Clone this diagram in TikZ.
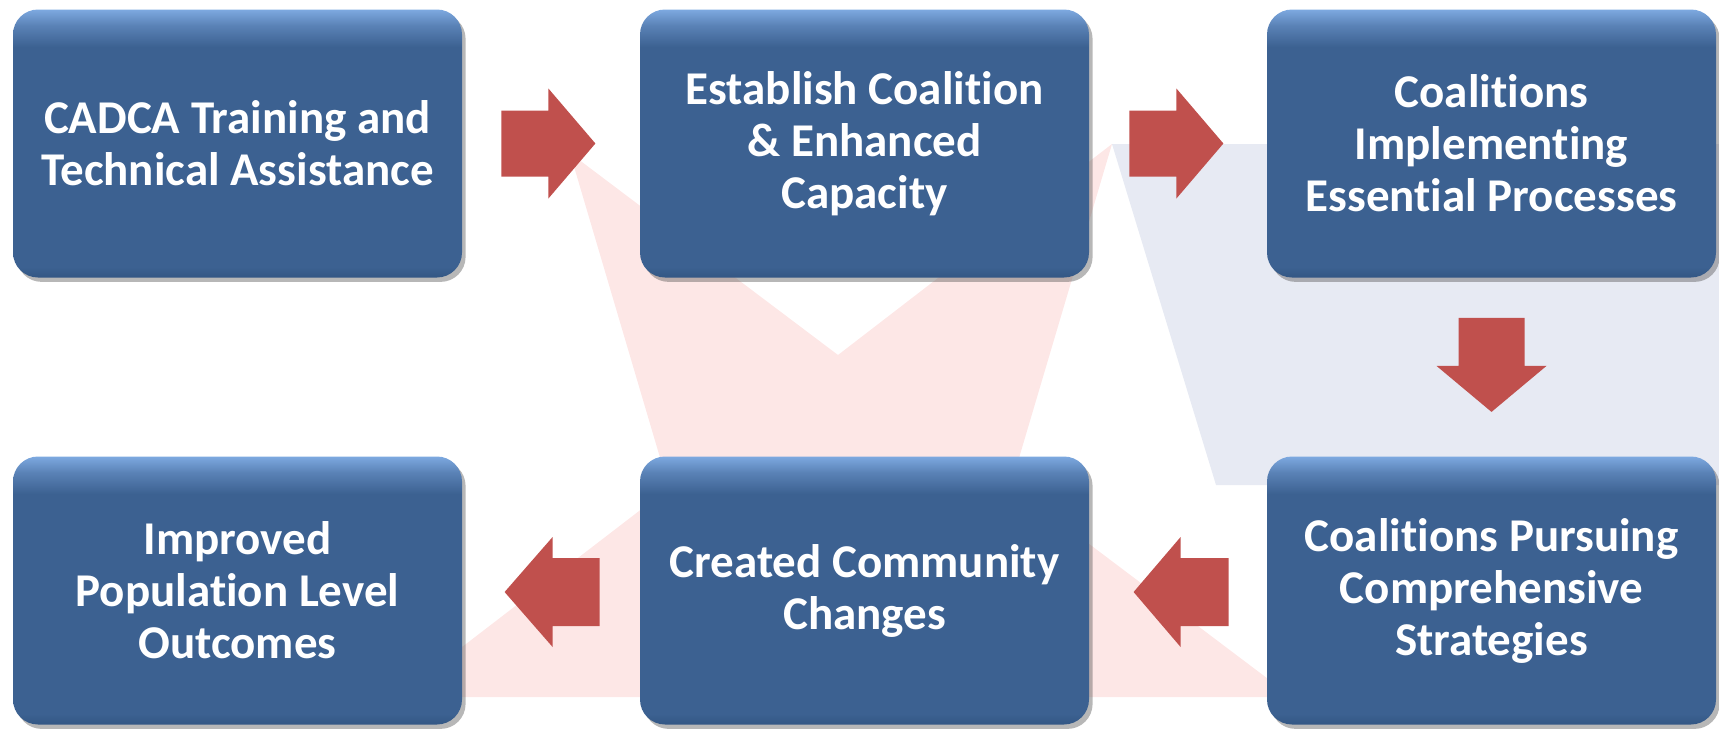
\documentclass[tikz,border=0pt]{standalone}
\usepackage{fontspec}
\setmainfont{Carlito}[Ligatures=NoCommon]
\usetikzlibrary{calc,shadows}
\definecolor{boxmain}{HTML}{3C6191}
\definecolor{boxdark}{HTML}{335784}
\definecolor{boxmid}{HTML}{5A82B6}
\definecolor{boxtop}{HTML}{7DA9E0}
\definecolor{arrowred}{HTML}{C0504D}
\definecolor{pinkbg}{HTML}{FDE7E6}
\definecolor{lavbg}{HTML}{E7EAF3}
\pgfdeclareverticalshading{boxshade}{100bp}{color(0bp)=(boxdark); color(25bp)=(boxdark); color(27bp)=(boxmain); color(68bp)=(boxmain); color(72bp)=(boxmid); color(75bp)=(boxtop); color(100bp)=(boxtop)}
\tikzset{
  stepbox/.style={rectangle, rounded corners=12.5pt, minimum width=224.5pt, minimum height=134pt,
    inner sep=0pt, shading=boxshade, text=white, align=center,
    font=\fontsize{23.5}{26}\selectfont\bfseries,
    drop shadow={shadow xshift=1.8pt, shadow yshift=-2.2pt, opacity=0.4, fill=black!70}},
  blockarrow/.style={fill=arrowred}
}
\begin{document}
\begin{tikzpicture}[x=0.5pt,y=-0.5pt]
\useasboundingbox (0,0) rectangle (1719,729);
% background shapes
\fill[lavbg] (1112,144) -- (1719,144) -- (1719,485) -- (1216,485) -- cycle;
\fill[pinkbg] (570,153) -- (838,355) -- (1112,144) -- (1011,485) -- (1292,697) -- (397,697) -- (669,488) -- cycle;
% boxes
\node[stepbox] (B1) at (237.5,143.5) {CADCA Training and\\Technical Assistance};
\node[stepbox] (B2) at (864.5,143.5) {Establish Coalition\\\& Enhanced\\Capacity};
\node[stepbox] (B3) at (1491.5,143.5) {Coalitions\\Implementing\\Essential Processes};
\node[stepbox] (B4) at (237.5,590.5) {Improved\\Population Level\\Outcomes};
\node[stepbox] (B5) at (864.5,590.5) {Created Community\\Changes};
\node[stepbox] (B6) at (1491.5,590.5) {Coalitions Pursuing\\Comprehensive\\Strategies};
% arrow tails
\coordinate (t1) at ($(B1.east)+(39,0)$);
\coordinate (t2) at ($(B2.east)+(40,0)$);
\coordinate (t3) at ($(B3.south)+(0,40)$);
\coordinate (t4) at ($(B6.west)+(-38,1.5)$);
\coordinate (t5) at ($(B5.west)+(-40,1.5)$);
% right arrows
\fill[blockarrow] ($(t1)+(0,-33)$) -- ++(47,0) -- ++(0,-22) -- ++(47,55) -- ++(-47,55) -- ++(0,-22) -- ++(-47,0) -- cycle;
\fill[blockarrow] ($(t2)+(0,-33)$) -- ++(47,0) -- ++(0,-22) -- ++(47,55) -- ++(-47,55) -- ++(0,-22) -- ++(-47,0) -- cycle;
% down arrow
\fill[blockarrow] ($(t3)+(-33,0)$) -- ++(0,48) -- ++(-22,0) -- ++(55,46) -- ++(55,-46) -- ++(-22,0) -- ++(0,-48) -- cycle;
% left arrows
\fill[blockarrow] ($(t4)+(0,-34)$) -- ++(-48,0) -- ++(0,-21) -- ++(-47,55) -- ++(47,55) -- ++(0,-21) -- ++(48,0) -- cycle;
\fill[blockarrow] ($(t5)+(0,-34)$) -- ++(-47,0) -- ++(0,-21) -- ++(-48,55) -- ++(48,55) -- ++(0,-21) -- ++(47,0) -- cycle;
\end{tikzpicture}
\end{document}
